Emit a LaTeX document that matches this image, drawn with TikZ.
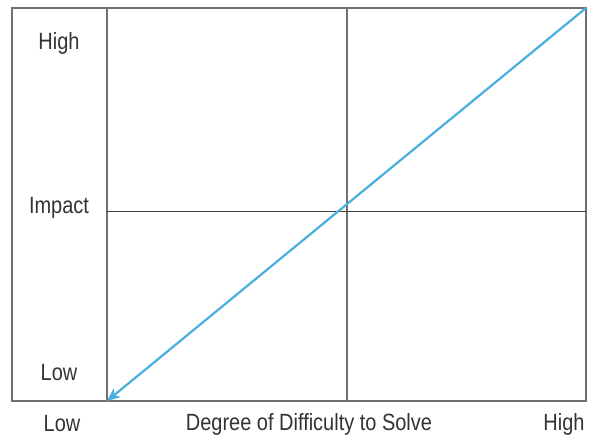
\documentclass[tikz,border=0pt]{standalone}
\usepackage{fontspec}
\setmainfont{Liberation Sans}[FakeStretch=0.85]
\usetikzlibrary{arrows.meta}
\definecolor{arrowblue}{HTML}{4AAFDE}
\definecolor{framegray}{HTML}{707070}
\definecolor{txtgray}{HTML}{333333}
\begin{document}
\begin{tikzpicture}[x=1pt,y=-1pt,
  lbl/.style={font=\fontsize{23.5}{26}\selectfont, text=txtgray, inner sep=0pt},
  frame/.style={draw=framegray, line width=1.5pt},
  divider/.style={draw=black!75, line width=1pt}]
\useasboundingbox (0,0) rectangle (592,436);
\coordinate (tl) at (12,8);
\coordinate (br) at (586,401);
\coordinate (tr) at (586,8);
\coordinate (ll) at (107,401);
\coordinate (vt) at (107,8);
\coordinate (mt) at (347,8);
\coordinate (mb) at (347,401);
\coordinate (hl) at (107,211);
\coordinate (hr) at (586,211);
\draw[frame] (tl) rectangle (br);
\draw[frame] (vt) -- (ll);
\draw[frame] (mt) -- (mb);
\draw[divider] (hl) -- (hr);
\draw[draw=arrowblue, line width=2.2pt, -{Stealth[length=13pt,width=11pt,inset=3.5pt]}] (tr) -- (ll);
\node[lbl] (yhigh) at (59,43) {High};
\node[lbl] (yimp) at (59,208) {Impact};
\node[lbl] (ylow) at (59,373) {Low};
\node[lbl] (xlow) at (62,424) {Low};
\node[lbl] (xlab) at (309,424) {Degree of Difficulty to Solve};
\node[lbl] (xhigh) at (564,424) {High};
\end{tikzpicture}
\end{document}
